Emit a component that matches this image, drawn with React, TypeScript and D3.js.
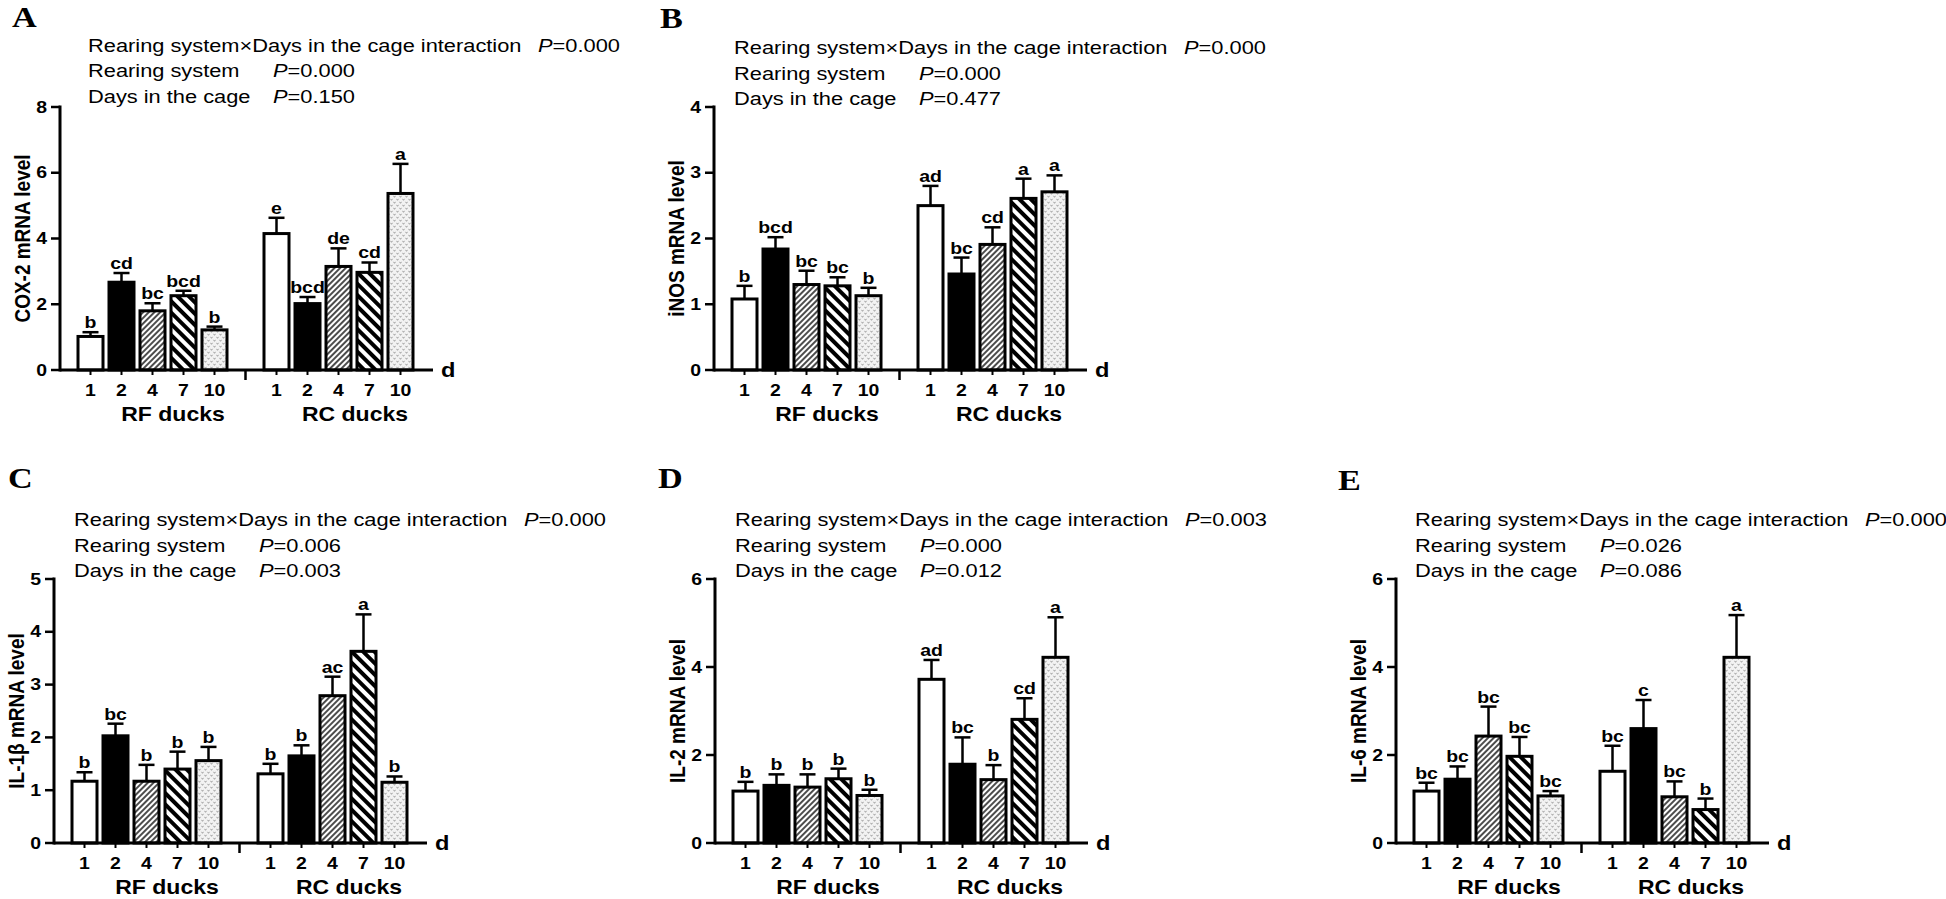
import * as d3 from 'd3';
import * as React from 'react';

// days in the cage and rearing groups
const days = ['1', '2', '4', '7', '10'];
const groups = ['RF ducks', 'RC ducks'];
const statNames = ['Rearing system×Days in the cage interaction', 'Rearing system', 'Days in the cage'];

// A: COX-2
const coxRF = [1.02, 2.67, 1.8, 2.26, 1.22];
const coxRFse = [0.13, 0.28, 0.23, 0.15, 0.1];
const coxRC = [4.15, 2.02, 3.15, 2.97, 5.37];
const coxRCse = [0.48, 0.2, 0.55, 0.3, 0.9];
const coxLettersRF = ['b', 'cd', 'bc', 'bcd', 'b'];
const coxLettersRC = ['e', 'bcd', 'de', 'cd', 'a'];
const coxP = ['0.000', '0.000', '0.150'];

// B: iNOS
const inosRF = [1.08, 1.84, 1.3, 1.28, 1.13];
const inosRFse = [0.2, 0.18, 0.21, 0.13, 0.12];
const inosRC = [2.5, 1.46, 1.91, 2.61, 2.71];
const inosRCse = [0.3, 0.25, 0.26, 0.3, 0.25];
const inosLettersRF = ['b', 'bcd', 'bc', 'bc', 'b'];
const inosLettersRC = ['ad', 'bc', 'cd', 'a', 'a'];
const inosP = ['0.000', '0.000', '0.477'];

// C: IL-1β
const il1RF = [1.17, 2.03, 1.17, 1.4, 1.56];
const il1RFse = [0.17, 0.23, 0.31, 0.33, 0.26];
const il1RC = [1.31, 1.65, 2.79, 3.63, 1.15];
const il1RCse = [0.19, 0.2, 0.36, 0.7, 0.11];
const il1LettersRF = ['b', 'bc', 'b', 'b', 'b'];
const il1LettersRC = ['b', 'b', 'ac', 'a', 'b'];
const il1P = ['0.000', '0.006', '0.003'];

// D: IL-2
const il2RF = [1.18, 1.31, 1.27, 1.46, 1.08];
const il2RFse = [0.21, 0.25, 0.29, 0.23, 0.13];
const il2RC = [3.72, 1.79, 1.44, 2.81, 4.22];
const il2RCse = [0.44, 0.61, 0.33, 0.48, 0.91];
const il2LettersRF = ['b', 'b', 'b', 'b', 'b'];
const il2LettersRC = ['ad', 'bc', 'b', 'cd', 'a'];
const il2P = ['0.003', '0.000', '0.012'];

// E: IL-6
const il6RF = [1.18, 1.45, 2.43, 1.97, 1.07];
const il6RFse = [0.19, 0.29, 0.67, 0.44, 0.11];
const il6RC = [1.63, 2.6, 1.05, 0.76, 4.22];
const il6RCse = [0.58, 0.65, 0.35, 0.25, 0.96];
const il6LettersRF = ['bc', 'bc', 'bc', 'bc', 'bc'];
const il6LettersRC = ['bc', 'c', 'bc', 'b', 'a'];
const il6P = ['0.000', '0.026', '0.086'];

const SX = 1.18; // figure is stretched horizontally
const SANS = "'Liberation Sans', Arial, sans-serif";
const SERIF = "'Liberation Serif', 'Times New Roman', serif";
const fills = ['#fff', '#000', 'url(#hatchFine)', 'url(#hatchBold)', 'url(#dots)'];

const T = ({ x, y, size, weight = 'normal', anchor = 'start', rot = false, family = SANS, children }: any) => (
  <text
    transform={rot ? `translate(${x},${y}) rotate(-90) scale(1,${SX})` : `translate(${x},${y}) scale(${SX},1)`}
    fontSize={size}
    fontWeight={weight}
    textAnchor={anchor}
    fontFamily={family}
    fill="#000"
  >
    {children}
  </text>
);

const Panel = ({ lay, label, title, yMax, yStep, rf, rfSe, rc, rcSe, lRF, lRC, pvals }: any) => {
  const slots = [...days.map((d) => 'RF' + d), 'gap', ...days.map((d) => 'RC' + d)];
  const x = d3.scaleBand().domain(slots).range([lay.ax + 15, lay.ax + 15 + 31 * 11]);
  const y = d3.scaleLinear().domain([0, yMax]).range([lay.zero, lay.top]);
  const ticks = d3.range(0, yMax + 0.001, yStep);
  const bars = [
    ...days.map((d, i) => ({ key: 'RF' + d, day: d, i, v: rf[i], se: rfSe[i], l: lRF[i] })),
    ...days.map((d, i) => ({ key: 'RC' + d, day: d, i, v: rc[i], se: rcSe[i], l: lRC[i] })),
  ];
  const bw = 25;
  const cx = (k: string) => (x(k) as number) + x.bandwidth() / 2;
  return (
    <g>
      <T x={lay.lab[0]} y={lay.lab[1]} size={29} weight="bold" family={SERIF}>{label}</T>
      {statNames.map((s, i) => (
        <g key={s}>
          <T x={lay.st[0]} y={lay.st[1] + i * 25.7} size={18.5}>{s}</T>
          <T x={lay.st[0] + (i === 0 ? 450 : 185)} y={lay.st[1] + i * 25.7} size={18.5}>
            <tspan fontStyle="italic">P</tspan>={pvals[i]}
          </T>
        </g>
      ))}
      {bars.map((b) => (
        <g key={b.key}>
          <rect x={cx(b.key) - bw / 2} y={y(b.v)} width={bw} height={lay.zero - y(b.v)} fill={fills[b.i]} stroke="#000" strokeWidth={3} />
          <line x1={cx(b.key)} x2={cx(b.key)} y1={y(b.v)} y2={y(b.v + b.se)} stroke="#000" strokeWidth={2.5} />
          <line x1={cx(b.key) - 8} x2={cx(b.key) + 8} y1={y(b.v + b.se)} y2={y(b.v + b.se)} stroke="#000" strokeWidth={2.5} />
          <T x={cx(b.key)} y={y(b.v + b.se) - 4} size={16.5} weight="bold" anchor="middle">{b.l}</T>
          <line x1={cx(b.key)} x2={cx(b.key)} y1={lay.zero} y2={lay.zero + 5} stroke="#000" strokeWidth={2} />
          <T x={cx(b.key)} y={lay.zero + 26} size={16.5} weight="bold" anchor="middle">{b.day}</T>
        </g>
      ))}
      <line x1={cx('gap')} x2={cx('gap')} y1={lay.zero} y2={lay.zero + 10} stroke="#000" strokeWidth={2.5} />
      <line x1={lay.ax} x2={lay.ax} y1={lay.top - 1.5} y2={lay.zero + 1.5} stroke="#000" strokeWidth={3} />
      <line x1={lay.ax} x2={lay.ax + 373} y1={lay.zero} y2={lay.zero} stroke="#000" strokeWidth={3} />
      {ticks.map((t: number) => (
        <g key={t}>
          <line x1={lay.ax - 9} x2={lay.ax} y1={y(t)} y2={y(t)} stroke="#000" strokeWidth={2.5} />
          <T x={lay.ax - 13} y={y(t) + 5.5} size={16.5} weight="bold" anchor="end">{t}</T>
        </g>
      ))}
      <T x={lay.ax + 381} y={lay.zero + 7} size={20} weight="bold">d</T>
      <T x={lay.ax + 113} y={lay.zero + 51} size={19.5} weight="bold" anchor="middle">{groups[0]}</T>
      <T x={lay.ax + 295} y={lay.zero + 51} size={19.5} weight="bold" anchor="middle">{groups[1]}</T>
      <T x={lay.ax - 30} y={(lay.top + lay.zero) / 2} size={19} weight="bold" anchor="middle" rot>{title}</T>
    </g>
  );
};

const App = () => (
  <svg width={1946} height={899} style={{ position: 'absolute', left: 0, top: 0, background: '#fff' }}>
    <defs>
      <pattern id="hatchFine" patternUnits="userSpaceOnUse" width={4} height={4} patternTransform="rotate(45)">
        <rect width={4} height={4} fill="#fff" />
        <line x1={2} y1={0} x2={2} y2={4} stroke="#000" strokeWidth={1.4} />
      </pattern>
      <pattern id="hatchBold" patternUnits="userSpaceOnUse" width={8} height={8} patternTransform="rotate(-45)">
        <rect width={8} height={8} fill="#fff" />
        <line x1={4} y1={0} x2={4} y2={8} stroke="#000" strokeWidth={4} />
      </pattern>
      <pattern id="dots" patternUnits="userSpaceOnUse" width={6} height={6}>
        <rect width={6} height={6} fill="#f3f3f3" />
        <path d="M0.5,0.8 L1.5,2.3 L2.5,0.8 M3.5,3.8 L4.5,5.3 L5.5,3.8" stroke="#8a8a8a" strokeWidth={0.8} fill="none" />
      </pattern>
    </defs>
    <Panel lay={{ ax: 60, top: 107, zero: 370, lab: [12, 27], st: [88, 51.5] }} label="A" title="COX-2 mRNA level" yMax={8} yStep={2}
      rf={coxRF} rfSe={coxRFse} rc={coxRC} rcSe={coxRCse} lRF={coxLettersRF} lRC={coxLettersRC} pvals={coxP} />
    <Panel lay={{ ax: 714, top: 107, zero: 370, lab: [660, 28], st: [734, 54] }} label="B" title="iNOS mRNA level" yMax={4} yStep={1}
      rf={inosRF} rfSe={inosRFse} rc={inosRC} rcSe={inosRCse} lRF={inosLettersRF} lRC={inosLettersRC} pvals={inosP} />
    <Panel lay={{ ax: 54, top: 579, zero: 843, lab: [8, 488], st: [74, 526] }} label="C" title="IL-1β mRNA level" yMax={5} yStep={1}
      rf={il1RF} rfSe={il1RFse} rc={il1RC} rcSe={il1RCse} lRF={il1LettersRF} lRC={il1LettersRC} pvals={il1P} />
    <Panel lay={{ ax: 715, top: 579, zero: 843, lab: [658, 488], st: [735, 526] }} label="D" title="IL-2 mRNA level" yMax={6} yStep={2}
      rf={il2RF} rfSe={il2RFse} rc={il2RC} rcSe={il2RCse} lRF={il2LettersRF} lRC={il2LettersRC} pvals={il2P} />
    <Panel lay={{ ax: 1396, top: 579, zero: 843, lab: [1338, 490], st: [1415, 526] }} label="E" title="IL-6 mRNA level" yMax={6} yStep={2}
      rf={il6RF} rfSe={il6RFse} rc={il6RC} rcSe={il6RCse} lRF={il6LettersRF} lRC={il6LettersRC} pvals={il6P} />
  </svg>
);

export default App;
